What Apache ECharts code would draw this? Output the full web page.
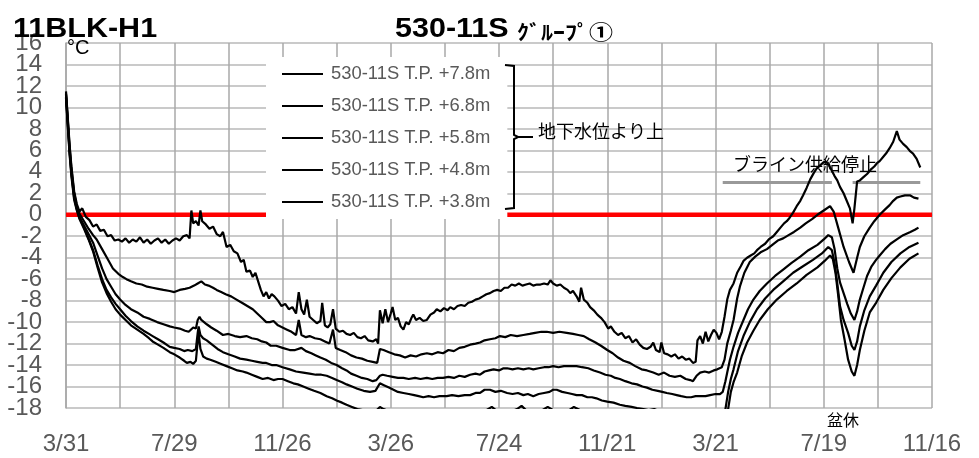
<!DOCTYPE html>
<html><head><meta charset="utf-8">
<script src="https://cdn.jsdelivr.net/npm/echarts@6/dist/echarts.min.js"></script>
<style>html,body{margin:0;padding:0;background:#fff}#c{width:979px;height:458px}</style>
</head><body><div id="c"></div>
<script>
// x axis: days since 3/31, tick labels every 120 days
const xLabels = ['3/31','7/29','11/26','3/26','7/24','11/21','3/21','7/19','11/16'];
const seriesNames = ['530-11S T.P. +7.8m','530-11S T.P. +6.8m','530-11S T.P. +5.8m','530-11S T.P. +4.8m','530-11S T.P. +3.8m'];

// [day, °C]
const s1 = [[0,11.5],[2,9],[4,6.5],[6,4.5],[9,2.2],[12,1.0],[15,0.3],[18,0.6],[22,-0.2],[26,-0.5],[30,-1.1],[34,-0.9],[38,-1.5],[42,-1.4],[46,-2.0],[50,-1.9],[54,-2.4],[58,-2.3],[62,-2.5],[66,-2.2],[70,-2.6],[74,-2.3],[78,-2.5],[82,-2.1],[86,-2.6],[90,-2.3],[94,-2.7],[98,-2.4],[102,-2.2],[106,-2.6],[110,-2.3],[114,-2.7],[118,-2.4],[122,-2.2],[126,-2.4],[130,-2.0],[134,-1.9],[137,-2.2],[139,0.4],[141,-0.8],[144,-0.6],[147,-1.0],[149,0.4],[151,-0.6],[155,-0.9],[159,-1.3],[163,-1.1],[167,-1.8],[171,-2.0],[174,-1.6],[178,-3.0],[182,-2.8],[186,-3.4],[190,-3.6],[194,-4.4],[197,-4.2],[200,-5.3],[204,-5.2],[207,-5.8],[210,-5.4],[213,-6.2],[216,-7.0],[219,-7.6],[222,-7.2],[225,-7.8],[228,-7.4],[231,-7.6],[235,-8.0],[239,-8.5],[243,-8.3],[247,-8.8],[251,-8.6],[255,-9.2],[258,-7.2],[261,-8.8],[264,-9.3],[267,-7.9],[270,-9.5],[274,-9.8],[278,-10.1],[282,-9.9],[284,-8.2],[287,-10.3],[290,-10.5],[293,-10.2],[296,-8.8],[299,-10.6],[303,-10.9],[307,-10.8],[311,-11.1],[315,-11.2],[319,-11.0],[323,-11.4],[327,-11.5],[331,-11.3],[335,-11.7],[340,-11.8],[344,-11.6],[346,-12.0],[348,-8.9],[351,-10.1],[354,-8.8],[357,-10.0],[360,-9.2],[362,-8.6],[365,-9.8],[368,-9.6],[371,-10.4],[374,-10.7],[377,-10.0],[380,-10.2],[383,-9.6],[385,-9.3],[388,-9.8],[392,-9.6],[396,-9.9],[400,-9.8],[404,-9.3],[408,-9.1],[411,-8.8],[415,-9.0],[419,-8.7],[423,-8.9],[426,-8.6],[430,-8.8],[434,-8.5],[438,-8.4],[442,-8.5],[446,-8.2],[450,-8.1],[454,-7.9],[458,-7.8],[462,-7.6],[466,-7.4],[470,-7.3],[474,-7.1],[478,-7.0],[482,-7.1],[486,-6.8],[490,-6.8],[494,-6.5],[498,-6.6],[502,-6.4],[506,-6.6],[510,-6.5],[514,-6.4],[518,-6.6],[522,-6.5],[526,-6.5],[530,-6.4],[534,-6.5],[537,-6.1],[540,-6.4],[544,-6.6],[548,-6.5],[552,-6.8],[556,-7.0],[559,-7.3],[562,-7.1],[566,-7.6],[569,-8.1],[571,-6.8],[574,-7.9],[578,-8.2],[581,-8.6],[585,-8.9],[589,-9.3],[593,-9.6],[597,-10.0],[601,-10.6],[604,-10.4],[608,-10.9],[612,-11.2],[616,-11.0],[620,-11.5],[624,-11.3],[628,-11.9],[632,-11.6],[636,-12.1],[640,-12.4],[644,-12.5],[648,-12.3],[651,-11.9],[654,-12.6],[658,-12.8],[660,-11.9],[663,-12.9],[667,-13.0],[671,-13.2],[675,-13.0],[679,-13.4],[683,-13.2],[687,-13.5],[691,-13.4],[695,-13.8],[698,-13.7],[700,-11.7],[703,-11.3],[706,-12.0],[709,-10.9],[712,-11.8],[715,-11.2],[718,-10.7],[721,-11.0],[724,-11.6],[727,-10.9],[730,-9.5],[733,-7.9],[736,-7.0],[740,-6.4],[744,-5.4],[748,-4.8],[751,-4.3],[755,-4.0],[759,-3.8],[763,-3.6],[766,-3.3],[770,-3.0],[775,-2.7],[779,-2.3],[784,-2.0],[788,-1.6],[792,-1.2],[796,-0.8],[799,-0.6],[802,-0.3],[806,0.2],[810,0.8],[814,1.3],[817,1.8],[821,2.5],[825,3.3],[829,3.9],[832,4.3],[836,4.6],[840,4.9],[843,4.9],[846,4.6],[849,4.1],[852,3.6],[855,3.2],[858,2.6],[862,2.0],[865,1.4],[869,0.6],[872,-0.8],[874,0.6],[877,3.1],[880,3.2],[884,3.5],[888,3.8],[892,4.2],[896,4.5],[899,4.8],[902,5.0],[906,5.4],[909,5.7],[913,6.2],[917,6.8],[921,7.8],[924,7.0],[928,6.6],[932,6.3],[936,5.9],[939,5.7],[943,5.2],[947,4.4]];

const s2 = [[0,11.3],[2,8.8],[4,6.3],[6,4.3],[9,2.0],[12,0.8],[15,0.1],[20,-0.6],[25,-1.3],[30,-1.9],[34,-2.3],[40,-3.2],[46,-4.1],[52,-5.0],[58,-5.5],[63,-5.8],[67,-6.0],[72,-6.2],[78,-6.4],[84,-6.5],[90,-6.7],[96,-6.8],[102,-6.9],[108,-7.0],[115,-7.1],[120,-7.2],[126,-7.0],[132,-6.9],[137,-6.8],[142,-6.6],[146,-6.4],[150,-6.2],[154,-6.5],[158,-6.6],[163,-6.8],[167,-7.0],[172,-7.2],[177,-7.4],[183,-7.6],[189,-7.9],[195,-8.2],[201,-8.5],[207,-8.8],[212,-9.2],[217,-9.6],[222,-10.0],[226,-10.0],[230,-9.9],[235,-10.3],[240,-10.5],[245,-10.7],[250,-10.9],[255,-11.2],[258,-9.8],[261,-11.2],[266,-11.4],[270,-11.3],[276,-11.5],[282,-11.6],[287,-11.8],[292,-12.0],[296,-10.7],[299,-12.4],[304,-12.6],[310,-12.8],[316,-13.1],[322,-13.3],[328,-13.4],[334,-13.6],[340,-13.7],[345,-13.8],[348,-12.5],[352,-12.6],[358,-12.8],[364,-13.0],[370,-13.1],[376,-13.3],[382,-13.1],[388,-13.2],[394,-13.0],[400,-12.9],[406,-13.0],[412,-12.8],[418,-12.9],[424,-12.6],[430,-12.7],[436,-12.4],[442,-12.3],[448,-12.1],[454,-12.0],[459,-11.9],[464,-11.7],[470,-11.6],[476,-11.5],[481,-11.3],[487,-11.4],[493,-11.2],[500,-11.3],[507,-11.2],[514,-11.1],[520,-11.0],[527,-10.9],[533,-10.9],[540,-11.0],[547,-10.9],[555,-11.0],[562,-11.1],[568,-11.2],[574,-11.3],[580,-11.6],[587,-11.9],[593,-12.2],[600,-12.6],[606,-12.9],[612,-13.3],[618,-13.6],[625,-13.8],[631,-14.1],[638,-14.4],[644,-14.5],[651,-14.7],[657,-14.9],[663,-14.7],[669,-15.0],[675,-15.1],[681,-15.0],[687,-15.3],[692,-15.4],[695,-15.5],[699,-15.0],[703,-14.7],[708,-14.6],[713,-14.7],[718,-14.5],[722,-14.4],[727,-14.2],[730,-13.5],[733,-12.0],[737,-10.8],[740,-9.8],[744,-7.8],[747,-6.7],[752,-5.4],[758,-4.4],[764,-3.9],[770,-3.5],[777,-3.2],[783,-2.8],[789,-2.4],[795,-2.2],[801,-1.9],[807,-1.6],[814,-1.2],[820,-0.8],[827,-0.4],[833,0.0],[840,0.4],[847,0.8],[851,0.3],[856,-1.2],[862,-3.0],[868,-4.4],[873,-5.4],[877,-4.0],[880,-3.0],[885,-2.0],[891,-1.2],[896,-0.6],[902,0.0],[908,0.5],[913,0.9],[917,1.3],[921,1.6],[925,1.7],[930,1.8],[936,1.8],[940,1.6],[945,1.5]];

const s3 = [[0,11.2],[2,8.6],[4,6.0],[6,4.0],[9,1.8],[12,0.6],[15,-0.2],[20,-1.0],[25,-1.8],[30,-2.6],[35,-3.8],[40,-5.0],[45,-6.0],[50,-6.7],[55,-7.4],[60,-7.9],[66,-8.4],[72,-8.8],[79,-9.1],[86,-9.5],[93,-9.7],[101,-10.0],[108,-10.2],[115,-10.4],[120,-10.5],[126,-10.6],[132,-10.8],[136,-10.9],[141,-10.5],[144,-10.6],[146,-9.8],[148,-9.5],[150,-9.8],[153,-10.0],[156,-10.2],[161,-10.5],[167,-10.8],[174,-11.2],[180,-11.1],[187,-11.3],[193,-11.4],[200,-11.3],[206,-11.5],[212,-11.6],[217,-11.8],[222,-11.9],[227,-12.2],[233,-12.2],[240,-12.4],[248,-12.6],[254,-12.6],[261,-12.4],[266,-12.7],[272,-12.9],[277,-13.1],[282,-13.3],[288,-13.5],[294,-13.8],[300,-14.0],[306,-14.3],[311,-14.5],[316,-14.8],[322,-15.0],[328,-15.2],[334,-15.3],[340,-15.5],[344,-15.4],[348,-15.0],[351,-14.9],[356,-15.0],[362,-15.1],[368,-15.2],[374,-15.2],[380,-15.3],[387,-15.2],[393,-15.3],[400,-15.2],[406,-15.3],[412,-15.2],[418,-15.2],[424,-15.1],[430,-15.2],[436,-15.0],[442,-15.1],[448,-14.9],[454,-14.8],[459,-14.9],[464,-14.6],[469,-14.5],[474,-14.4],[480,-14.5],[485,-14.3],[489,-14.3],[495,-14.4],[501,-14.3],[507,-14.4],[513,-14.3],[518,-14.4],[524,-14.3],[530,-14.2],[535,-14.2],[540,-14.1],[546,-14.2],[552,-14.1],[558,-14.1],[566,-14.1],[572,-14.2],[579,-14.3],[585,-14.5],[592,-14.7],[598,-14.9],[604,-15.0],[609,-15.2],[614,-15.3],[620,-15.5],[627,-15.7],[633,-15.8],[639,-16.0],[644,-16.1],[650,-16.3],[656,-16.4],[661,-16.5],[666,-16.6],[672,-16.7],[677,-16.8],[682,-16.9],[688,-17.0],[693,-17.0],[698,-16.9],[703,-16.9],[709,-16.9],[714,-16.8],[720,-16.7],[725,-16.7],[728,-16.5],[731,-15.5],[733,-14.7],[736,-13.5],[740,-12.3],[745,-11.0],[751,-9.8],[756,-8.8],[762,-7.9],[769,-7.1],[777,-6.4],[786,-5.7],[795,-5.1],[804,-4.5],[814,-3.9],[823,-3.3],[833,-2.8],[840,-2.3],[845,-1.9],[849,-2.1],[852,-3.2],[855,-5.0],[858,-6.3],[862,-7.3],[866,-8.3],[870,-9.2],[874,-9.8],[877,-9.0],[880,-7.9],[884,-6.8],[888,-5.7],[893,-4.8],[898,-4.2],[902,-3.8],[908,-3.2],[914,-2.7],[921,-2.3],[928,-1.9],[936,-1.6],[941,-1.4],[945,-1.2]];

const s4 = [[0,11.0],[2,8.4],[4,5.8],[6,3.8],[9,1.6],[12,0.5],[15,-0.3],[20,-1.2],[25,-2.2],[30,-3.3],[35,-4.7],[40,-6.0],[45,-7.0],[50,-7.7],[55,-8.3],[60,-8.8],[66,-9.4],[72,-9.9],[79,-10.4],[86,-10.8],[92,-11.1],[96,-11.3],[102,-11.6],[108,-11.9],[115,-12.3],[120,-12.4],[126,-12.5],[131,-12.7],[135,-12.6],[140,-12.7],[144,-12.5],[146,-11.0],[147,-10.4],[149,-11.2],[152,-11.5],[156,-11.7],[162,-12.1],[168,-12.5],[174,-12.8],[180,-13.0],[187,-13.2],[193,-13.4],[200,-13.5],[206,-13.6],[212,-13.7],[218,-13.8],[222,-13.8],[228,-14.0],[233,-14.0],[240,-14.2],[248,-14.4],[255,-14.6],[263,-14.7],[270,-14.8],[277,-14.9],[283,-14.9],[289,-15.0],[295,-15.2],[300,-15.4],[306,-15.6],[311,-15.8],[317,-16.0],[323,-16.2],[330,-16.4],[337,-16.5],[343,-16.4],[348,-15.7],[353,-15.9],[358,-16.1],[363,-16.3],[368,-16.5],[374,-16.6],[380,-16.7],[386,-16.8],[391,-16.9],[396,-17.0],[402,-16.9],[408,-17.0],[414,-16.9],[422,-16.9],[428,-16.8],[435,-16.9],[442,-16.8],[448,-16.8],[454,-16.6],[459,-16.6],[464,-16.3],[470,-16.3],[476,-16.5],[482,-16.4],[489,-16.6],[495,-16.7],[501,-16.6],[507,-16.8],[512,-16.7],[518,-16.9],[524,-16.7],[530,-16.6],[536,-16.5],[540,-16.3],[544,-16.3],[550,-16.5],[556,-16.6],[561,-16.7],[566,-16.8],[572,-16.8],[578,-17.0],[583,-17.0],[588,-17.1],[594,-17.3],[600,-17.4],[607,-17.5],[614,-17.7],[620,-17.8],[627,-17.9],[633,-18.0],[640,-18.1],[646,-18.2],[652,-18.1],[658,-18.3],[664,-18.2],[670,-18.4],[676,-18.3],[682,-18.4],[688,-18.3],[694,-18.5],[700,-18.4],[706,-18.3],[712,-18.2],[718,-18.3],[724,-18.2],[728,-18.5],[731,-18.1],[734,-16.5],[737,-15.3],[740,-14.4],[745,-12.7],[751,-11.3],[758,-10.0],[766,-8.8],[775,-7.8],[784,-7.0],[795,-6.2],[806,-5.4],[817,-4.8],[828,-4.2],[838,-3.6],[845,-3.0],[849,-3.3],[852,-4.5],[855,-6.4],[858,-8.5],[862,-9.8],[867,-11.0],[871,-12.2],[874,-12.6],[877,-11.8],[880,-10.4],[885,-8.9],[891,-7.6],[898,-6.6],[906,-5.4],[915,-4.4],[925,-3.6],[935,-3.0],[945,-2.6]];

const s5 = [[0,10.9],[2,8.2],[4,5.6],[6,3.6],[9,1.4],[12,0.4],[15,-0.4],[20,-1.3],[25,-2.3],[30,-3.4],[35,-4.9],[40,-6.3],[45,-7.3],[50,-8.1],[55,-8.8],[60,-9.3],[66,-9.8],[72,-10.3],[79,-10.7],[86,-11.1],[92,-11.5],[96,-11.8],[102,-12.1],[108,-12.4],[115,-12.8],[120,-13.0],[126,-13.3],[131,-13.6],[134,-13.8],[138,-13.7],[141,-13.9],[144,-13.6],[146,-11.8],[147,-11.0],[149,-12.5],[152,-13.2],[156,-13.4],[160,-13.5],[166,-13.7],[172,-13.9],[178,-14.1],[184,-14.3],[190,-14.5],[196,-14.6],[200,-14.7],[206,-14.9],[212,-15.1],[218,-15.3],[224,-15.2],[230,-15.4],[235,-15.3],[240,-15.3],[246,-15.5],[252,-15.7],[257,-15.8],[263,-16.0],[269,-16.2],[275,-16.4],[282,-16.6],[289,-16.9],[295,-17.1],[300,-17.3],[306,-17.5],[311,-17.7],[317,-17.9],[323,-18.1],[329,-18.2],[335,-18.4],[341,-18.5],[348,-17.9],[352,-18.1],[358,-18.3],[364,-18.4],[370,-18.6],[376,-18.7],[382,-18.9],[390,-19.0],[400,-19.1],[410,-19.1],[420,-19.0],[430,-19.1],[440,-18.9],[450,-18.8],[458,-18.5],[466,-18.2],[472,-17.9],[478,-18.3],[486,-18.4],[494,-18.3],[500,-18.1],[505,-17.8],[510,-18.2],[518,-18.4],[526,-18.3],[534,-17.9],[540,-18.2],[548,-18.4],[556,-18.3],[563,-17.9],[570,-18.2],[578,-18.5],[586,-18.8],[595,-19.0],[605,-19.2],[615,-19.4],[625,-19.5],[640,-19.6],[660,-19.8],[680,-19.9],[700,-19.9],[720,-19.8],[728,-19.8],[731,-19.5],[734,-18.1],[737,-16.5],[740,-15.6],[744,-14.7],[749,-13.2],[755,-11.9],[762,-10.8],[769,-9.8],[778,-8.8],[788,-7.9],[799,-7.1],[810,-6.4],[821,-5.6],[833,-4.9],[841,-4.3],[847,-3.8],[850,-4.1],[853,-5.4],[856,-7.5],[859,-9.8],[863,-11.6],[867,-13.5],[871,-14.6],[874,-15.0],[877,-14.0],[880,-12.6],[885,-10.8],[891,-9.1],[898,-8.2],[906,-7.0],[915,-5.9],[925,-4.9],[935,-4.1],[945,-3.6]];

// reference lines: 0 °C (groundwater level), brine supply stop markers at 3 °C
const zeroLine = [[0,0],[960,0]];
const brineStop1 = [[728,3],[849,3]];
const brineStop2 = [[872,3],[947,3]];

const chart = echarts.init(document.getElementById('c'), null, {renderer:'canvas'});
const FONT = 'Liberation Sans, Arial, sans-serif';
const JP = 'Noto Sans CJK JP, sans-serif';
const lineSeries = [s1,s2,s3,s4,s5].map((d,i)=>({
  name: seriesNames[i], type:'line', data:d, symbol:'none', showSymbol:false,
  lineStyle:{color:'#000', width:2.2}, itemStyle:{color:'#000'}, z:3, animation:false
}));
// two overlaid y axes share one scale; each labels every other tick so labels never get culled
const yStep = v => Math.round((v + 18) / 2);
const yBase = {type:'value', min:-18, max:16, interval:2, position:'left', axisTick:{show:false}};
const yLabelStyle = {fontSize:24, color:'#595959', fontFamily:FONT, margin:24, showMinLabel:true, showMaxLabel:true, hideOverlap:false};
chart.setOption({
  animation:false,
  grid:{left:66, right:47, top:43, bottom:50},
  xAxis:{type:'value', min:0, max:960, interval:60,
    axisLine:{show:true, lineStyle:{color:'#a8a8a8', width:1.5}},
    axisTick:{show:false},
    splitLine:{show:true, lineStyle:{color:'#a8a8a8', width:1.5}},
    axisLabel:{fontSize:24, color:'#595959', fontFamily:FONT, margin:24, showMinLabel:true, showMaxLabel:true, hideOverlap:false,
      formatter:v => (v % 120 === 0) ? xLabels[v/120] : ''}
  },
  yAxis:[
    Object.assign({}, yBase, {
      axisLine:{show:true, lineStyle:{color:'#a8a8a8', width:1.5}},
      splitLine:{show:true, lineStyle:{color:'#b8b8b8', width:1.5}},
      axisLabel:Object.assign({}, yLabelStyle, {formatter:v => (yStep(v) % 2 === 1) ? String(v) : ''})
    }),
    Object.assign({}, yBase, {
      axisLine:{show:false}, splitLine:{show:false},
      axisLabel:Object.assign({}, yLabelStyle, {formatter:v => (yStep(v) % 2 === 0) ? String(v) : ''})
    })
  ],
  legend:{data:seriesNames, orient:'vertical', left:266, top:57, backgroundColor:'#fff',
    padding:[7,17,7,16], itemWidth:41, itemHeight:2, icon:'rect', itemGap:12,
    textStyle:{fontSize:18.4, color:'#595959', fontFamily:FONT, lineHeight:20, padding:[0,0,0,3]},
    selectedMode:false, z:10},
  series:[
    {type:'line', data:zeroLine, symbol:'none', lineStyle:{color:'#ff0000', width:4.5}, z:2, silent:true},
    {type:'line', data:brineStop1, symbol:'none', lineStyle:{color:'#999999', width:3}, z:2, silent:true},
    {type:'line', data:brineStop2, symbol:'none', lineStyle:{color:'#999999', width:3}, z:2, silent:true},
    ...lineSeries
  ],
  graphic:[
    {type:'text', x:13, y:30, scaleX:1.13, z:20, style:{text:'11BLK-H1', fontSize:27, fontWeight:'bold', fontFamily:FONT, fill:'#000', align:'left', verticalAlign:'middle'}},
    {type:'text', x:395, y:30, scaleX:1.13, z:20, style:{text:'530-11S', fontSize:27, fontWeight:'bold', fontFamily:FONT, fill:'#000', align:'left', verticalAlign:'middle'}},
    {type:'text', x:517, y:32, scaleX:1.2, z:20, style:{text:'ｸﾞﾙｰﾌﾟ①', fontSize:20, fontWeight:'bold', fontFamily:JP, fill:'#000', align:'left', verticalAlign:'middle'}},
    {type:'text', x:67, y:48, z:20, style:{text:'°C', fontSize:20, fontFamily:FONT, fill:'#000', align:'left', verticalAlign:'middle'}},
    {type:'polyline', z:20, shape:{points:[[505,65],[514,66],[514,135],[518,137],[533,137],[518,137],[514,139],[514,208],[505,209]]}, style:{stroke:'#000', lineWidth:2, fill:null}},
    {type:'text', x:538, y:131, z:20, style:{text:'地下水位より上', fontSize:18, fontFamily:JP, fill:'#000', align:'left', verticalAlign:'middle'}},
    {type:'text', x:733, y:164, z:20, style:{text:'ブライン供給停止', fontSize:18, fontFamily:JP, fill:'#000', align:'left', verticalAlign:'middle'}},
    {type:'text', x:827, y:420, z:20, style:{text:'盆休', fontSize:16, fontFamily:JP, fill:'#000', align:'left', verticalAlign:'middle'}}
  ]
});
</script></body></html>
